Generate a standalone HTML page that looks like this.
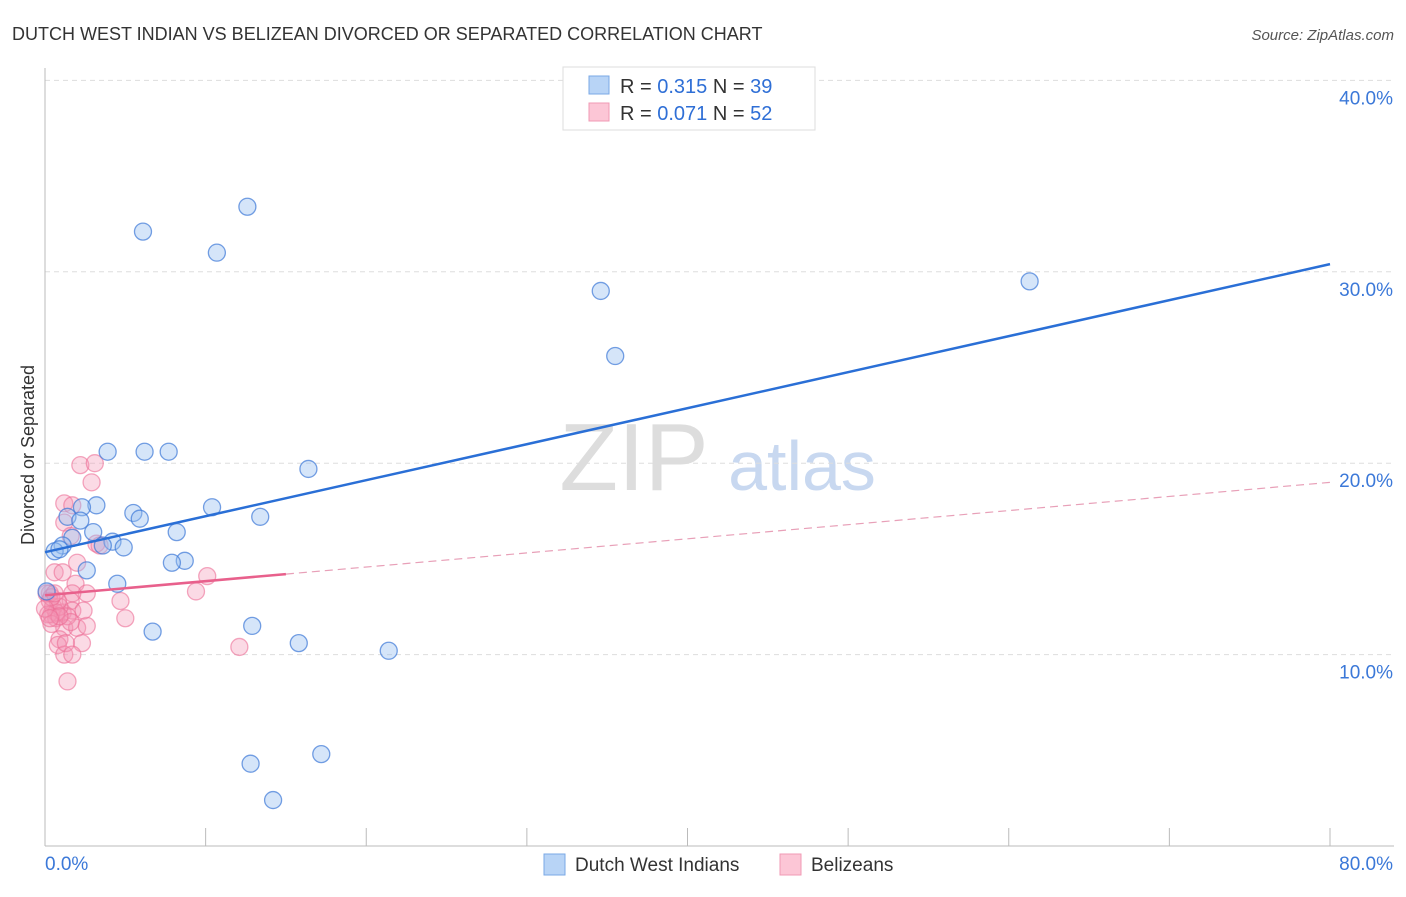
<!DOCTYPE html>
<html><head><meta charset="utf-8"><style>
body{margin:0;background:#fff;font-family:"Liberation Sans",sans-serif;}
svg text{font-family:"Liberation Sans",sans-serif;}
</style></head><body>
<svg id="c" width="1406" height="892" xmlns="http://www.w3.org/2000/svg">
<text x="12" y="40" font-size="18" fill="#333">DUTCH WEST INDIAN VS BELIZEAN DIVORCED OR SEPARATED CORRELATION CHART</text>
<text x="1394" y="40" font-size="15" fill="#555" font-style="italic" text-anchor="end">Source: ZipAtlas.com</text>
<text x="634" y="490" font-size="96" fill="#ddd" font-family="Liberation Serif" text-anchor="middle">ZIP</text>
<text x="802" y="490" font-size="70" fill="#c8d8f0" text-anchor="middle">atlas</text>
<g id="grid"></g><g id="axes"></g><g id="pts"></g><g id="trend"></g>
<text transform="translate(34,455) rotate(-90)" font-size="18" fill="#333" text-anchor="middle">Divorced or Separated</text>
<g>
<rect x="563" y="67" width="252" height="63" fill="#fff" stroke="#ddd"/>
<rect x="589" y="76" width="20" height="18" fill="#b8d4f6" stroke="#7aa8e6"/>
<rect x="589" y="103" width="20" height="18" fill="#fcc6d6" stroke="#f09ab4"/>
<text x="620" y="93" font-size="20" fill="#333">R = <tspan fill="#2f6fd6">0.315</tspan>   N = <tspan fill="#2f6fd6">39</tspan></text>
<text x="620" y="120" font-size="20" fill="#333">R = <tspan fill="#2f6fd6">0.071</tspan>   N = <tspan fill="#2f6fd6">52</tspan></text>
</g>
<g>
<rect x="544" y="854" width="21" height="21" fill="#b8d4f6" stroke="#7aa8e6"/>
<text x="575" y="871" font-size="19" fill="#333">Dutch West Indians</text>
<rect x="780" y="854" width="21" height="21" fill="#fcc6d6" stroke="#f09ab4"/>
<text x="811" y="871" font-size="19" fill="#333">Belizeans</text>
</g>
</svg>
<script>
const xTicks=[0,10,20,30,40,50,60,70,80];
const yTicks=[10,20,30,40];
const blueX=[6.1,12.6,10.7,34.6,61.3,35.5,3.9,6.2,7.7,16.4,3.2,2.3,1.4,5.5,5.9,10.4,13.4,3.0,8.2,1.7,4.2,3.6,4.9,1.1,0.6,8.7,7.9,2.6,4.5,6.7,12.9,15.8,21.4,12.8,17.2,14.2,0.9,0.1,2.2];
const blueY=[32.1,33.4,31.0,29.0,29.5,25.6,20.6,20.6,20.6,19.7,17.8,17.7,17.2,17.4,17.1,17.7,17.2,16.4,16.4,16.1,15.9,15.7,15.6,15.7,15.4,14.9,14.8,14.4,13.7,11.2,11.5,10.6,10.2,4.3,4.8,2.4,15.5,13.3,17.0];
const pinkX=[2.2,3.1,2.9,1.2,1.7,1.2,1.6,3.2,2.0,0.6,1.1,1.9,2.6,1.7,10.1,9.4,4.7,5.0,12.1,0.5,0.4,0.7,1.2,2.0,2.6,0.9,2.3,0.8,1.2,1.4,1.1,0.3,0.1,1.6,1.7,1.4,0.3,0.9,0.7,0.2,0.4,0.8,1.6,0.4,0.9,1.3,1.7,0.0,0.3,2.4,0.6,3.4];
const pinkY=[19.9,20.0,19.0,17.9,17.8,16.9,16.2,15.8,14.8,14.3,14.3,13.7,13.2,13.2,14.1,13.3,12.8,11.9,10.4,12.5,12.1,11.9,11.4,11.4,11.5,10.8,10.6,10.5,10.0,8.6,12.2,13.2,13.2,12.8,12.3,12.0,12.8,12.5,12.2,12.1,11.6,12.8,11.7,13.0,12.0,10.6,10.0,12.4,11.9,12.3,13.2,15.7];
const blueTrend=[15.35,30.4];
const pinkTrend=[13.1,19.0];
const pinkSolidEnd=15;
const NS='http://www.w3.org/2000/svg';
const X=v=>45+v*16.0625, Y=v=>846-v*19.14;
function mk(t,a,p){const e=document.createElementNS(NS,t);for(const k in a)e.setAttribute(k,a[k]);document.getElementById(p).appendChild(e);return e;}
yTicks.forEach(t=>{
 const l=mk('line',{x1:45,x2:1394,y1:Y(t),y2:Y(t),stroke:'#ddd','stroke-dasharray':'5,4'},'grid');
 
 
 const tx=mk('text',{x:1393,y:Y(t)+24,'font-size':19,fill:'#3b78d8','text-anchor':'end'},'grid');
 tx.textContent=t.toFixed(1)+'%';
 
 
});
const ax=mk('line',{x1:45,x2:45,y1:68,y2:846,stroke:'#bbb'},'axes');


const bx=mk('line',{x1:45,x2:1394,y1:846,y2:846,stroke:'#bbb'},'axes');


xTicks.forEach(t=>{
 if(t===0)return;
 const l=mk('line',{x1:X(t),x2:X(t),y1:828,y2:846,stroke:'#bbb'},'axes');
 
 
});
[[0,'start'],[80,'end']].forEach(([t,a])=>{
 const tx=mk('text',{x:t===0?45:1393,y:870,'font-size':19,fill:'#3b78d8','text-anchor':a},'axes');
 tx.textContent=t.toFixed(1)+'%';
 
 
});
pinkX.forEach((x,i)=>{
 const c=mk('circle',{cx:X(x),cy:Y(pinkY[i]),r:8.5,fill:'rgba(244,150,180,0.35)',stroke:'rgba(236,110,150,0.6)','stroke-width':1.3},'pts');
 
 
});
blueX.forEach((x,i)=>{
 const c=mk('circle',{cx:X(x),cy:Y(blueY[i]),r:8.5,fill:'rgba(150,190,240,0.4)',stroke:'rgba(60,120,215,0.7)','stroke-width':1.3},'pts');
 
 
});
const pf=x=>pinkTrend[0]+(pinkTrend[1]-pinkTrend[0])*x/80;
const t1=mk('line',{x1:X(0),y1:Y(blueTrend[0]),x2:X(80),y2:Y(blueTrend[1]),stroke:'#2a6fd6','stroke-width':2.5},'trend');


const t2=mk('line',{x1:X(0),y1:Y(pf(0)),x2:X(pinkSolidEnd),y2:Y(pf(pinkSolidEnd)),stroke:'#e8608c','stroke-width':2.5},'trend');


const t3=mk('line',{x1:X(pinkSolidEnd),y1:Y(pf(pinkSolidEnd)),x2:X(80),y2:Y(pf(80)),stroke:'#e8a0b8','stroke-width':1.2,'stroke-dasharray':'8,5'},'trend');


</script>
</body></html>
